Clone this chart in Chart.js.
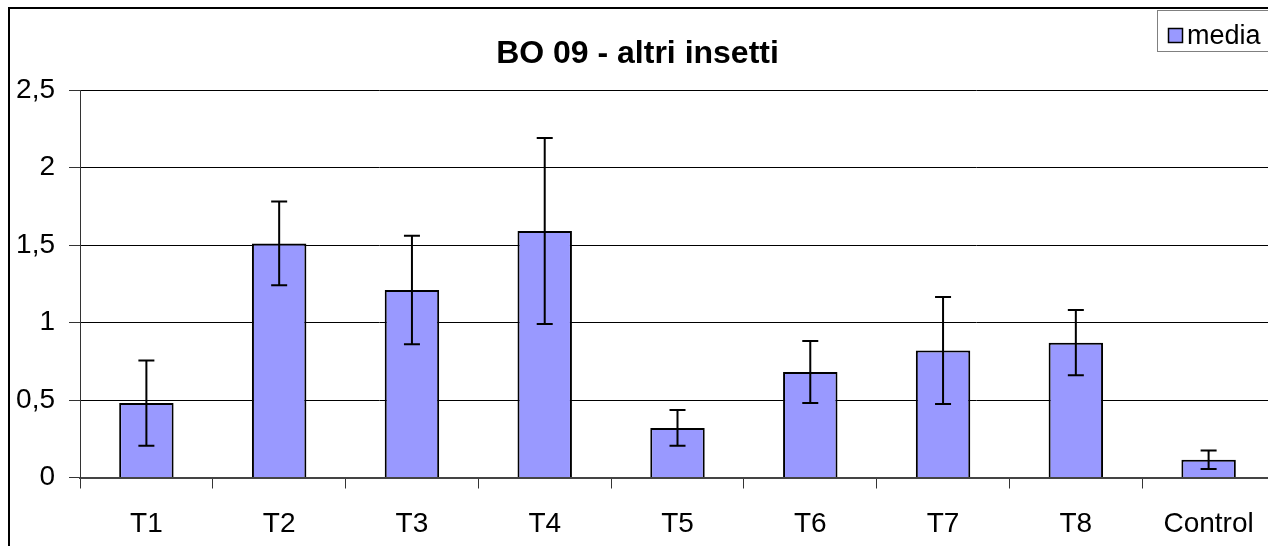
<!DOCTYPE html>
<html>
<head>
<meta charset="utf-8">
<script src="https://cdn.jsdelivr.net/npm/chart.js@4"></script>
<style>
  html, body { margin: 0; padding: 0; background: #fff; overflow: hidden; }
  #frame { position: absolute; left: 8px; top: 7px; width: 2000px; height: 1000px;
           border-left: 2px solid #000; border-top: 2px solid #000; }
  #wrap { position: absolute; left: 0; top: 0; width: 1280px; height: 546px; }
</style>
</head>
<body>
<div id="frame"></div>
<div id="wrap"><canvas id="chart" width="1280" height="546"></canvas></div>
<script>
var categories = ["T1", "T2", "T3", "T4", "T5", "T6", "T7", "T8", "Control"];
var media = [0.48, 1.51, 1.21, 1.59, 0.32, 0.68, 0.82, 0.87, 0.115];
var errore = [0.275, 0.27, 0.35, 0.60, 0.115, 0.20, 0.345, 0.21, 0.06];
var yTicks = [0, 0.5, 1, 1.5, 2, 2.5];

var FONT = "'Liberation Sans', Arial, sans-serif";

// error bars drawn from the y scale
var errorBars = {
    id: 'errorBars',
    afterDatasetsDraw: function(chart) {
        var ctx = chart.ctx;
        var y = chart.scales.y;
        var meta = chart.getDatasetMeta(0);
        ctx.save();
        ctx.strokeStyle = '#000';
        ctx.lineWidth = 2;
        meta.data.forEach(function(bar, i) {
            var top = y.getPixelForValue(media[i] + errore[i]);
            var bot = y.getPixelForValue(media[i] - errore[i]);
            ctx.beginPath();
            ctx.moveTo(bar.x, top); ctx.lineTo(bar.x, bot);
            ctx.moveTo(bar.x - 8, top); ctx.lineTo(bar.x + 8, top);
            ctx.moveTo(bar.x - 8, bot); ctx.lineTo(bar.x + 8, bot);
            ctx.stroke();
        });
        ctx.restore();
    }
};

// legend box in the top right corner
var legendBox = {
    id: 'legendBox',
    afterDraw: function(chart) {
        var ctx = chart.ctx;
        ctx.save();
        ctx.fillStyle = '#fff';
        ctx.fillRect(1157, 10, 200, 42);
        ctx.strokeStyle = '#808080';
        ctx.lineWidth = 1;
        ctx.strokeRect(1157.5, 10.5, 200, 41);
        ctx.fillStyle = '#9999FF';
        ctx.fillRect(1168, 28, 15, 15);
        ctx.strokeStyle = '#000';
        ctx.lineWidth = 1.5;
        ctx.strokeRect(1168.5, 28.5, 14, 14);
        ctx.fillStyle = '#000';
        ctx.font = "27px " + FONT;
        ctx.textBaseline = 'alphabetic';
        ctx.fillText(chart.data.datasets[0].label, 1187, 43.5);
        ctx.restore();
    }
};

new Chart(document.getElementById('chart'), {
    type: 'bar',
    data: {
        labels: categories,
        datasets: [{
            label: 'media',
            data: media,
            backgroundColor: '#9999FF',
            borderColor: '#000',
            borderWidth: 2,
            categoryPercentage: 1,
            barPercentage: 0.41
        }]
    },
    options: {
        responsive: false,
        animation: false,
        layout: { padding: { left: 0, right: 5, top: 0, bottom: 0 } },
        plugins: {
            legend: { display: false },
            tooltip: { enabled: false },
            title: {
                display: true,
                text: 'BO 09 - altri insetti',
                color: '#000',
                font: { family: FONT, size: 32, weight: 'bold' },
                padding: { top: 35, bottom: 16.6 }
            }
        },
        scales: {
            x: {
                grid: { drawOnChartArea: false, drawTicks: true, tickLength: 11, color: '#333', offset: true },
                border: { display: true, color: '#444', width: 2 },
                ticks: { color: '#000', font: { family: FONT, size: 28 }, padding: 19, maxRotation: 0 },
                afterFit: function(scale) { scale.height = 68.5; }
            },
            y: {
                min: 0,
                max: 2.5,
                afterBuildTicks: function(scale) {
                    scale.ticks = yTicks.map(function(v) { return { value: v }; });
                },
                grid: {
                    color: function(c) { return c.tick && c.tick.value === 0 ? '#444' : '#000'; },
                    lineWidth: 1,
                    tickLength: 11,
                    tickColor: '#333'
                },
                border: { display: true, color: '#333', width: 1 },
                ticks: {
                    color: '#000',
                    padding: 14,
                    font: { family: FONT, size: 28 },
                    callback: function(v) { return String(v).replace('.', ','); }
                },
                afterFit: function(scale) { scale.width = 80; }
            }
        }
    },
    plugins: [errorBars, legendBox]
});
</script>
</body>
</html>
